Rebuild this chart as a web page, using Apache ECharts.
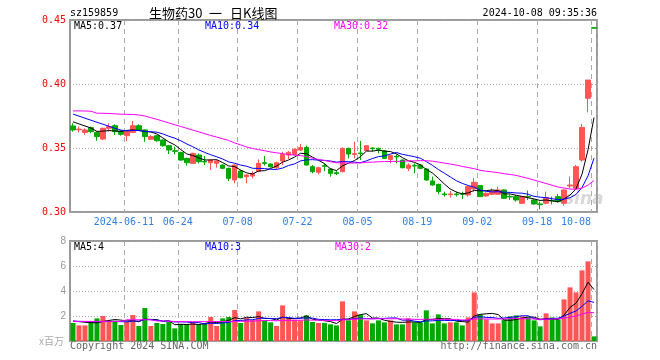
<!DOCTYPE html>
<html><head><meta charset="utf-8">
<script src="https://cdn.jsdelivr.net/npm/echarts@6/dist/echarts.min.js"></script>
<style>html,body{margin:0;padding:0;background:#fff}#c{width:660px;height:360px}</style>
</head><body><div id="c"></div>
<script>
const dates = ['2024-05-28','2024-05-29','2024-05-30','2024-05-31','2024-06-03','2024-06-04','2024-06-05','2024-06-06','2024-06-07','2024-06-11',
'2024-06-12','2024-06-13','2024-06-14','2024-06-17','2024-06-18','2024-06-19','2024-06-20','2024-06-21','2024-06-24','2024-06-25',
'2024-06-26','2024-06-27','2024-06-28','2024-07-01','2024-07-02','2024-07-03','2024-07-04','2024-07-05','2024-07-08','2024-07-09',
'2024-07-10','2024-07-11','2024-07-12','2024-07-15','2024-07-16','2024-07-17','2024-07-18','2024-07-19','2024-07-22','2024-07-23',
'2024-07-24','2024-07-25','2024-07-26','2024-07-29','2024-07-30','2024-07-31','2024-08-01','2024-08-02','2024-08-05','2024-08-06',
'2024-08-07','2024-08-08','2024-08-09','2024-08-12','2024-08-13','2024-08-14','2024-08-15','2024-08-16','2024-08-19','2024-08-20',
'2024-08-21','2024-08-22','2024-08-23','2024-08-26','2024-08-27','2024-08-28','2024-08-29','2024-08-30','2024-09-02','2024-09-03',
'2024-09-04','2024-09-05','2024-09-06','2024-09-09','2024-09-10','2024-09-11','2024-09-12','2024-09-13','2024-09-18','2024-09-19',
'2024-09-20','2024-09-23','2024-09-24','2024-09-25','2024-09-26','2024-09-27','2024-09-30','2024-10-08'];

const open = [0.3672,0.3643,0.3622,0.3659,0.3622,0.3570,0.3654,0.3674,0.3633,0.3596,
0.3622,0.3674,0.3641,0.3568,0.3596,0.3562,0.3518,0.3479,0.3464,0.3419,
0.3380,0.3445,0.3396,0.3385,0.3380,0.3367,0.3341,0.3250,0.3320,0.3276,
0.3281,0.3318,0.3385,0.3375,0.3346,0.3398,0.3445,0.3450,0.3484,0.3503,
0.3354,0.3310,0.3362,0.3336,0.3307,0.3315,0.3497,0.3450,0.3461,0.3479,
0.3500,0.3497,0.3477,0.3411,0.3435,0.3406,0.3341,0.3365,0.3367,0.3336,
0.3242,0.3216,0.3141,0.3135,0.3141,0.3143,0.3133,0.3180,0.3206,0.3125,
0.3138,0.3138,0.3172,0.3122,0.3120,0.3068,0.3122,0.3094,0.3063,0.3068,
0.3091,0.3120,0.3068,0.3203,0.3185,0.3406,0.3888,0.4440];

const close = [0.3641,0.3648,0.3641,0.3628,0.3589,0.3654,0.3667,0.3628,0.3607,0.3633,
0.3674,0.3641,0.3589,0.3589,0.3557,0.3518,0.3484,0.3474,0.3406,0.3385,
0.3458,0.3393,0.3391,0.3406,0.3398,0.3341,0.3263,0.3367,0.3268,0.3289,
0.3299,0.3380,0.3378,0.3354,0.3385,0.3450,0.3466,0.3490,0.3503,0.3367,
0.3315,0.3346,0.3357,0.3302,0.3299,0.3497,0.3453,0.3456,0.3456,0.3518,
0.3495,0.3490,0.3419,0.3440,0.3430,0.3346,0.3367,0.3359,0.3341,0.3250,
0.3211,0.3159,0.3135,0.3141,0.3135,0.3138,0.3198,0.3232,0.3120,0.3146,
0.3164,0.3172,0.3107,0.3117,0.3094,0.3120,0.3117,0.3063,0.3057,0.3112,
0.3086,0.3081,0.3172,0.3211,0.3354,0.3661,0.4031,0.4436];

const low = [0.3628,0.3622,0.3602,0.3615,0.3557,0.3562,0.3628,0.3602,0.3596,0.3555,
0.3615,0.3633,0.3549,0.3562,0.3549,0.3510,0.3453,0.3450,0.3401,0.3362,
0.3375,0.3380,0.3367,0.3328,0.3346,0.3336,0.3242,0.3224,0.3263,0.3224,
0.3263,0.3310,0.3362,0.3346,0.3336,0.3367,0.3414,0.3440,0.3477,0.3362,
0.3302,0.3294,0.3320,0.3276,0.3289,0.3310,0.3419,0.3419,0.3406,0.3477,
0.3471,0.3458,0.3414,0.3380,0.3380,0.3341,0.3320,0.3302,0.3336,0.3245,
0.3206,0.3138,0.3120,0.3112,0.3120,0.3102,0.3120,0.3159,0.3117,0.3120,
0.3133,0.3133,0.3102,0.3094,0.3081,0.3063,0.3094,0.3057,0.3021,0.3060,
0.3060,0.3073,0.3049,0.3185,0.3172,0.3393,0.3779,0.4436];

const high = [0.3693,0.3667,0.3654,0.3667,0.3628,0.3659,0.3693,0.3685,0.3641,0.3641,
0.3711,0.3685,0.3646,0.3602,0.3602,0.3568,0.3523,0.3510,0.3471,0.3424,
0.3464,0.3458,0.3437,0.3411,0.3406,0.3372,0.3346,0.3372,0.3328,0.3294,
0.3320,0.3411,0.3437,0.3380,0.3393,0.3471,0.3476,0.3497,0.3531,0.3518,
0.3367,0.3354,0.3380,0.3341,0.3320,0.3503,0.3503,0.3549,0.3555,0.3523,
0.3505,0.3503,0.3484,0.3445,0.3450,0.3411,0.3380,0.3380,0.3372,0.3341,
0.3276,0.3221,0.3159,0.3164,0.3159,0.3159,0.3206,0.3268,0.3211,0.3154,
0.3185,0.3198,0.3177,0.3138,0.3133,0.3125,0.3167,0.3099,0.3081,0.3159,
0.3120,0.3141,0.3177,0.3276,0.3367,0.3688,0.4031,0.4440];

// volume, millions
const volume = [1.44,1.25,1.25,1.52,1.81,2.00,1.63,1.63,1.28,1.52,
2.08,1.20,2.64,1.20,1.44,1.36,1.52,1.01,1.36,1.36,
1.52,1.33,1.41,1.92,1.20,1.81,1.92,2.48,1.44,1.84,
1.68,2.37,1.65,1.49,1.20,2.85,1.79,1.71,1.65,2.05,
1.52,1.44,1.44,1.33,1.25,3.17,1.65,2.37,2.10,1.65,
1.41,1.65,1.49,1.65,1.33,1.33,1.81,1.49,1.49,2.45,
1.41,2.13,1.41,1.49,1.49,1.25,1.89,3.89,2.13,1.73,
1.41,1.41,1.73,1.97,2.05,1.97,1.89,1.65,1.17,2.21,
1.89,1.73,3.33,4.29,3.89,5.65,6.37,0.37];

// moving-average values for the first days (prior history not shown)
const ma5Lead = [0.3705,0.3688,0.3672,0.3656];
const ma10Lead = [0.3765,0.3749,0.3733,0.3717,0.3701,0.3686,0.3670,0.3654,0.3640];
const ma30Lead = [0.3790,0.3790,0.3789,0.3787,0.3772,0.3771,0.3770,0.3767,0.3764,0.3763,
0.3762,0.3758,0.3750,0.3737,0.3724,0.3710,0.3696,0.3682,0.3668,0.3654,
0.3640,0.3626,0.3612,0.3598,0.3585,0.3572,0.3559,0.3540,0.3524];
const vma5Lead = [1.60,1.55,1.50,1.47];
const vma10Lead = [1.58,1.57,1.56,1.55,1.55,1.55,1.56,1.56,1.55];
const vma30Lead = [1.57,1.57,1.57,1.57,1.57,1.57,1.57,1.57,1.57,1.70,
1.70,1.70,1.70,1.70,1.60,1.60,1.60,1.55,1.55,1.55,
1.55,1.55,1.55,1.55,1.56,1.56,1.57,1.57,1.57];

const tickDates = ['2024-06-11','2024-06-24','2024-07-08','2024-07-22','2024-08-05','2024-08-19','2024-09-02','2024-09-18','2024-10-08'];
const tickTexts = ['2024-06-11','06-24','07-08','07-22','08-05','08-19','09-02','09-18','10-08'];
const priceTicks = [0.30, 0.45, 0.05];
const volTicks = [0, 8, 2];
const priceLegend = ['MA5:0.37','MA10:0.34','MA30:0.32'];
const volLegend = ['MA5:4','MA10:3','MA30:2'];
const titleParts = ['生物药30', '一', '日K线图'];

function movingAvg(vals, n, lead) {
  return vals.map((v, i) => {
    if (i < n - 1) return lead[i];
    let s = 0;
    for (let j = i - n + 1; j <= i; j++) s += vals[j];
    return +(s / n).toFixed(5);
  });
}

const RED = '#ff5555', GREEN = '#00a800';
const MONO = '"DejaVu Sans Mono", monospace';
const CJK = '13px "Noto Sans CJK SC"';
const chart = echarts.init(document.getElementById('c'), null, {renderer: 'canvas', width: 660, height: 360});

const tickIdx = (i, v) => tickDates.indexOf(v) >= 0;
const vsplit = {show: true, interval: tickIdx, lineStyle: {color: '#aaa', type: [5, 4], width: 1}};
const hsplit = {show: true, lineStyle: {color: '#aaa', type: [1, 2], width: 1}};

const kData = dates.map((d, i) => [open[i], close[i], low[i], high[i]]);
const volData = volume.map((v, i) => ({value: v, itemStyle: {color: close[i] >= open[i] ? RED : GREEN}}));

function lineS(name, data, color, xi, yi) {
  return {name, type: 'line', data, xAxisIndex: xi, yAxisIndex: yi, symbol: 'none', z: 5,
    lineStyle: {color, width: 1}, itemStyle: {color}, silent: true};
}

const option = {
  animation: false,
  backgroundColor: '#fff',
  grid: [
    {left: 70, top: 20, width: 527, height: 192, show: true, borderColor: '#9a9a9a', borderWidth: 2, backgroundColor: 'transparent'},
    {left: 70, top: 241, width: 527, height: 100, show: true, borderColor: '#9a9a9a', borderWidth: 2, backgroundColor: 'transparent'}
  ],
  xAxis: [
    {type: 'category', gridIndex: 0, data: dates, boundaryGap: true,
      axisLine: {show: false}, axisTick: {show: false},
      axisLabel: {interval: tickIdx, margin: 5, color: '#2f7fe8', fontFamily: MONO, fontSize: 10,
        formatter: v => {
          const k = tickDates.indexOf(v);
          return k === tickDates.length - 1 ? '{e|' + tickTexts[k] + '}' : '{n|' + tickTexts[k] + '}';
        },
        rich: {n: {padding: [0, 6, 0, 0], color: '#2f7fe8', fontFamily: MONO, fontSize: 10},
               e: {padding: [0, 36, 0, 0], color: '#2f7fe8', fontFamily: MONO, fontSize: 10}}},
      splitLine: vsplit},
    {type: 'category', gridIndex: 1, data: dates, boundaryGap: true,
      axisLine: {show: false}, axisTick: {show: false}, axisLabel: {show: false},
      splitLine: vsplit}
  ],
  yAxis: [
    {type: 'value', gridIndex: 0, min: priceTicks[0], max: priceTicks[1], interval: priceTicks[2],
      axisLine: {show: false}, axisTick: {show: false},
      axisLabel: {color: '#ff0000', fontFamily: MONO, fontSize: 10, margin: 4, formatter: v => v.toFixed(2)},
      splitLine: hsplit},
    {type: 'value', gridIndex: 1, min: volTicks[0], max: volTicks[1], interval: volTicks[2],
      axisLine: {show: false}, axisTick: {show: false},
      axisLabel: {color: '#999', fontFamily: '"Liberation Sans", sans-serif', fontSize: 10, margin: 4,
        formatter: v => v === 0 ? '' : String(v)},
      splitLine: hsplit}
  ],
  series: [
    {name: 'K', type: 'candlestick', data: kData, xAxisIndex: 0, yAxisIndex: 0, barWidth: 5, z: 3,
      itemStyle: {color: RED, color0: GREEN, borderColor: RED, borderColor0: GREEN, borderWidth: 1}},
    lineS('MA5', movingAvg(close, 5, ma5Lead), '#000000', 0, 0),
    lineS('MA10', movingAvg(close, 10, ma10Lead), '#0000ff', 0, 0),
    lineS('MA30', movingAvg(close, 30, ma30Lead), '#ff00ff', 0, 0),
    {name: 'VOL', type: 'bar', data: volData, xAxisIndex: 1, yAxisIndex: 1, barWidth: 5, z: 3},
    lineS('VMA5', movingAvg(volume, 5, vma5Lead), '#000000', 1, 1),
    lineS('VMA10', movingAvg(volume, 10, vma10Lead), '#0000ff', 1, 1),
    lineS('VMA30', movingAvg(volume, 30, vma30Lead), '#ff00ff', 1, 1)
  ],
  graphic: [
    {type: 'text', x: 70, y: 13, style: {text: 'sz159859', fill: '#000', font: '10px ' + MONO, verticalAlign: 'middle'}},
    {type: 'text', x: 149, y: 13, style: {text: titleParts[0], fill: '#000', font: CJK, verticalAlign: 'middle'}},
    {type: 'text', x: 209, y: 13, style: {text: titleParts[1], fill: '#000', font: CJK, verticalAlign: 'middle'}},
    {type: 'text', x: 230, y: 13, style: {text: titleParts[2], fill: '#000', font: CJK, verticalAlign: 'middle'}},
    {type: 'text', x: 597, y: 13, style: {text: '2024-10-08 09:35:36', fill: '#000', font: '10px ' + MONO, align: 'right', verticalAlign: 'middle'}},
    {type: 'text', x: 74, y: 26, z: 10, style: {text: priceLegend[0], fill: '#000', font: '10px ' + MONO, verticalAlign: 'middle'}},
    {type: 'text', x: 205, y: 26, z: 10, style: {text: priceLegend[1], fill: '#0000ff', font: '10px ' + MONO, verticalAlign: 'middle'}},
    {type: 'text', x: 334, y: 26, z: 10, style: {text: priceLegend[2], fill: '#ff00ff', font: '10px ' + MONO, verticalAlign: 'middle'}},
    {type: 'text', x: 74, y: 247, z: 10, style: {text: volLegend[0], fill: '#000', font: '10px ' + MONO, verticalAlign: 'middle'}},
    {type: 'text', x: 205, y: 247, z: 10, style: {text: volLegend[1], fill: '#0000ff', font: '10px ' + MONO, verticalAlign: 'middle'}},
    {type: 'text', x: 335, y: 247, z: 10, style: {text: volLegend[2], fill: '#ff00ff', font: '10px ' + MONO, verticalAlign: 'middle'}},
    {type: 'text', x: 70, y: 346, style: {text: 'Copyright 2024 SINA.COM', fill: '#666', font: '10px ' + MONO, verticalAlign: 'middle'}},
    {type: 'text', x: 597, y: 346, style: {text: 'http://finance.sina.com.cn', fill: '#666', font: '10px ' + MONO, align: 'right', verticalAlign: 'middle'}},
    {type: 'text', x: 64, y: 341, style: {text: 'x百万', fill: '#aaa', font: '10px "Noto Sans CJK SC"', align: 'right', verticalAlign: 'middle'}},
    {type: 'text', x: 564, y: 200, z: 1, style: {text: 'sina', fill: 'rgba(170,170,170,0.45)', font: 'italic bold 17px "DejaVu Sans"', verticalAlign: 'middle'}}
  ]
};
chart.setOption(option);
</script>
</body></html>
